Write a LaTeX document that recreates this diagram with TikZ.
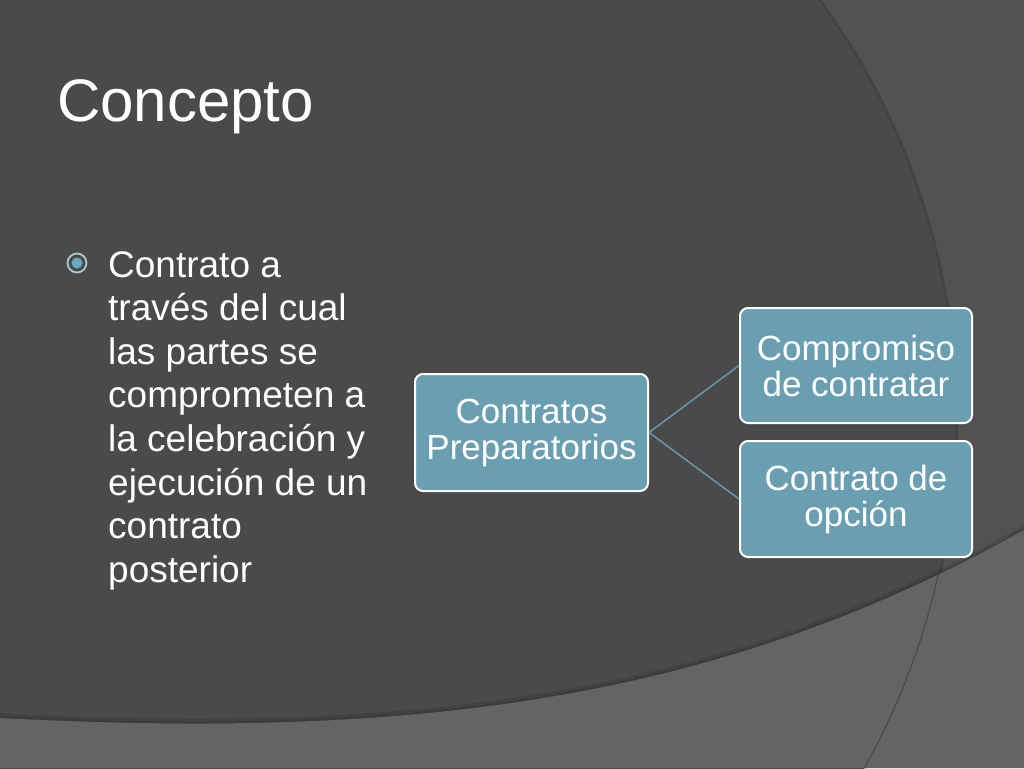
\documentclass[tikz,border=0pt]{standalone}
\usepackage{fontspec}
\setmainfont{Liberation Sans}
\definecolor{bgdark}{HTML}{4A4A4A}
\definecolor{bgright}{HTML}{525252}
\definecolor{bgband}{HTML}{646464}
\definecolor{boxfill}{HTML}{6A9FB1}
\definecolor{linkcol}{HTML}{6595A6}
\definecolor{ringcol}{HTML}{A9C9D3}
\definecolor{dotcol}{HTML}{6AAAC0}
\tikzset{
  smartbox/.style={draw=white, line width=2pt, rounded corners=8pt, fill=boxfill,
    text=white, align=center, inner sep=0pt,
    font=\fontsize{35}{36}\selectfont},
  link/.style={draw=linkcol, line width=1.6pt},
}
\begin{document}
\begin{tikzpicture}[x=1pt,y=-1pt]
\useasboundingbox (0,0) rectangle (1024,768);
% background
\fill[bgright] (0,0) rectangle (1024,768);
\begin{scope}
  \clip (0,0) rectangle (1024,768);
  \fill[bgdark] (243,420) circle (712);
  \draw[black, opacity=0.18, line width=2.5pt] (243,420) circle (713.5);
  % bottom band with soft shadow
  \fill[black, opacity=0.10] (0,713) .. controls (420,735) and (720,695) .. (1024,525) -- (1024,768) -- (0,768) -- cycle;
  \fill[black, opacity=0.10] (0,716) .. controls (420,738) and (720,698) .. (1024,528) -- (1024,768) -- (0,768) -- cycle;
  \fill[bgband] (0,718) .. controls (420,740) and (720,700) .. (1024,530) -- (1024,768) -- (0,768) -- cycle;
  \begin{scope}
    \clip (0,718) .. controls (420,740) and (720,700) .. (1024,530) -- (1024,768) -- (0,768) -- cycle;
    \draw[black, opacity=0.25, line width=1.2pt] (243,420) circle (712);
  \end{scope}
\end{scope}
% title
\node[anchor=base west, inner sep=0pt, text=white, font=\fontsize{60}{60}\selectfont] (title) at (57,121) {Concepto};
% bullet
\node[circle, draw=ringcol, line width=1.8pt, minimum size=19pt, inner sep=0pt] (ring) at (77,263) {};
\fill[dotcol] (ring.center) circle (5.5);
% body text
\node[anchor=north west, inner sep=0pt, text=white, align=left, font=\fontsize{37}{43.6}\selectfont] (body) at (108,251)
  {Contrato a\\trav\'es del cual\\las partes se\\comprometen a\\la celebraci\'on y\\ejecuci\'on de un\\contrato\\posterior};
% boxes
\node[smartbox, minimum width=233pt, minimum height=117pt] (A) at (531.5,432.5) {Contratos\\Preparatorios};
\node[smartbox, minimum width=232pt, minimum height=115pt] (B) at (856,365.5) {Compromiso\\de contratar};
\node[smartbox, minimum width=232pt, minimum height=116pt] (C) at (856,499) {Contrato de\\opci\'on};
% connectors
\draw[link] (A.east) -- (B.west);
\draw[link] (A.east) -- (C.west);
\end{tikzpicture}
\end{document}
